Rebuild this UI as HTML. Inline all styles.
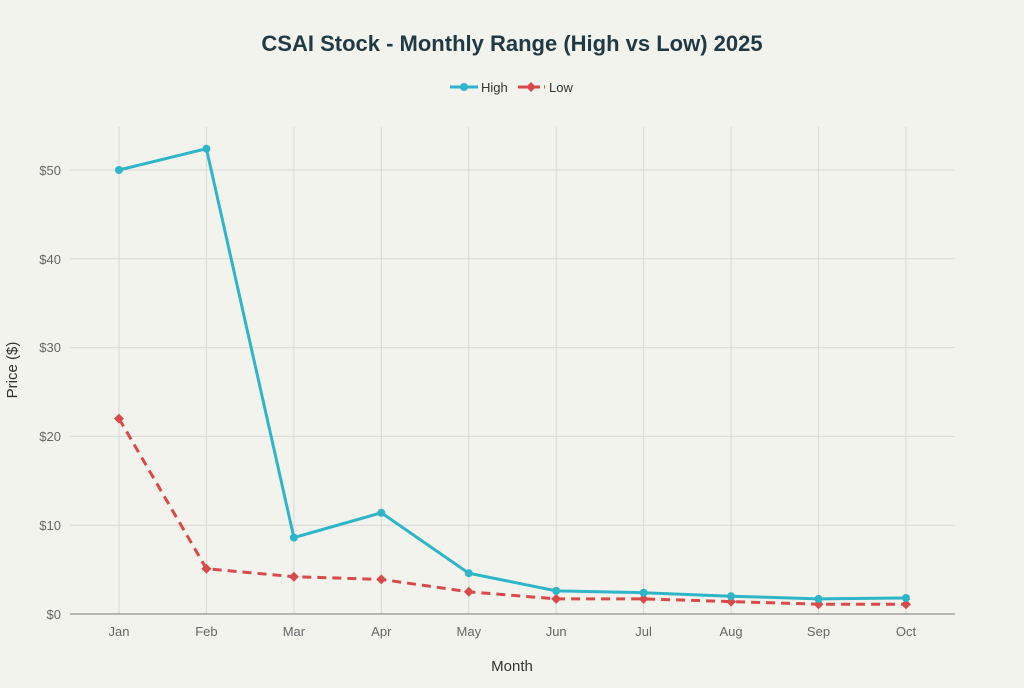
<!DOCTYPE html><html><head><style>body{margin:0;background:#f3f3ee}svg text{font-family:"Liberation Sans",sans-serif}</style></head><body>
<svg width="1024" height="683" viewBox="0 0 1024 683">
<rect width="1024" height="683" fill="#f3f3ee"/>
<text x="512" y="51" text-anchor="middle" font-size="22" font-weight="bold" fill="#1f3a45">CSAI Stock - Monthly Range (High vs Low) 2025</text>
<g stroke="#d8d8d4" stroke-width="1">
<line x1="70" x2="955" y1="525.2" y2="525.2"/><line x1="70" x2="955" y1="436.4" y2="436.4"/><line x1="70" x2="955" y1="347.6" y2="347.6"/><line x1="70" x2="955" y1="258.8" y2="258.8"/><line x1="70" x2="955" y1="170" y2="170"/>
<line x1="119" x2="119" y1="127" y2="614"/><line x1="206.4" x2="206.4" y1="127" y2="614"/><line x1="293.9" x2="293.9" y1="127" y2="614"/><line x1="381.3" x2="381.3" y1="127" y2="614"/><line x1="468.8" x2="468.8" y1="127" y2="614"/><line x1="556.2" x2="556.2" y1="127" y2="614"/><line x1="643.6" x2="643.6" y1="127" y2="614"/><line x1="731.1" x2="731.1" y1="127" y2="614"/><line x1="818.5" x2="818.5" y1="127" y2="614"/><line x1="906" x2="906" y1="127" y2="614"/>
</g>
<line x1="70" x2="955" y1="614" y2="614" stroke="#777" stroke-width="1"/>
<g font-size="13" fill="#666" text-anchor="end">
<text x="61" y="619">$0</text><text x="61" y="530">$10</text><text x="61" y="441">$20</text><text x="61" y="352">$30</text><text x="61" y="264">$40</text><text x="61" y="175">$50</text></g>
<g font-size="13" fill="#666" text-anchor="middle">
<text x="119" y="636">Jan</text><text x="206.4" y="636">Feb</text><text x="293.9" y="636">Mar</text><text x="381.3" y="636">Apr</text><text x="468.8" y="636">May</text><text x="556.2" y="636">Jun</text><text x="643.6" y="636">Jul</text><text x="731.1" y="636">Aug</text><text x="818.5" y="636">Sep</text><text x="906" y="636">Oct</text></g>
<text x="512" y="671" text-anchor="middle" font-size="15" fill="#333">Month</text>
<text x="17" y="370" text-anchor="middle" font-size="15" fill="#333" transform="rotate(-90 17 370)">Price ($)</text>
<polyline fill="none" stroke="#d94a4a" stroke-width="3" stroke-dasharray="9,6" points="119,418.6 206.4,568.7 293.9,576.7 381.3,579.4 468.8,591.8 556.2,598.9 643.6,598.9 731.1,601.6 818.5,604.2 906,604.2"/>
<g fill="#d94a4a">
<path d="M119,413.6l5,5-5,5-5-5z"/><path d="M206.4,563.7l5,5-5,5-5-5z"/><path d="M293.9,571.7l5,5-5,5-5-5z"/><path d="M381.3,574.4l5,5-5,5-5-5z"/><path d="M468.8,586.8l5,5-5,5-5-5z"/><path d="M556.2,593.9l5,5-5,5-5-5z"/><path d="M643.6,593.9l5,5-5,5-5-5z"/><path d="M731.1,596.6l5,5-5,5-5-5z"/><path d="M818.5,599.2l5,5-5,5-5-5z"/><path d="M906,599.2l5,5-5,5-5-5z"/></g>
<polyline fill="none" stroke="#2fb5c8" stroke-width="3" points="119,170 206.4,148.7 293.9,537.6 381.3,512.8 468.8,573.2 556.2,590.9 643.6,592.7 731.1,596.2 818.5,598.9 906,598"/>
<g fill="#2fb5c8">
<circle cx="119" cy="170" r="4"/><circle cx="206.4" cy="148.7" r="4"/><circle cx="293.9" cy="537.6" r="4"/><circle cx="381.3" cy="512.8" r="4"/><circle cx="468.8" cy="573.2" r="4"/><circle cx="556.2" cy="590.9" r="4"/><circle cx="643.6" cy="592.7" r="4"/><circle cx="731.1" cy="596.2" r="4"/><circle cx="818.5" cy="598.9" r="4"/><circle cx="906" cy="598" r="4"/></g>
<line x1="450" x2="478" y1="87" y2="87" stroke="#2fb5c8" stroke-width="3"/><circle cx="464" cy="87" r="4" fill="#2fb5c8"/>
<text x="481" y="92" font-size="13" fill="#333">High</text>
<line x1="518" x2="545" y1="87" y2="87" stroke="#d94a4a" stroke-width="3" stroke-dasharray="9,4"/><path d="M531,82l5,5-5,5-5-5z" fill="#d94a4a"/>
<text x="549" y="92" font-size="13" fill="#333">Low</text>
</svg></body></html>
